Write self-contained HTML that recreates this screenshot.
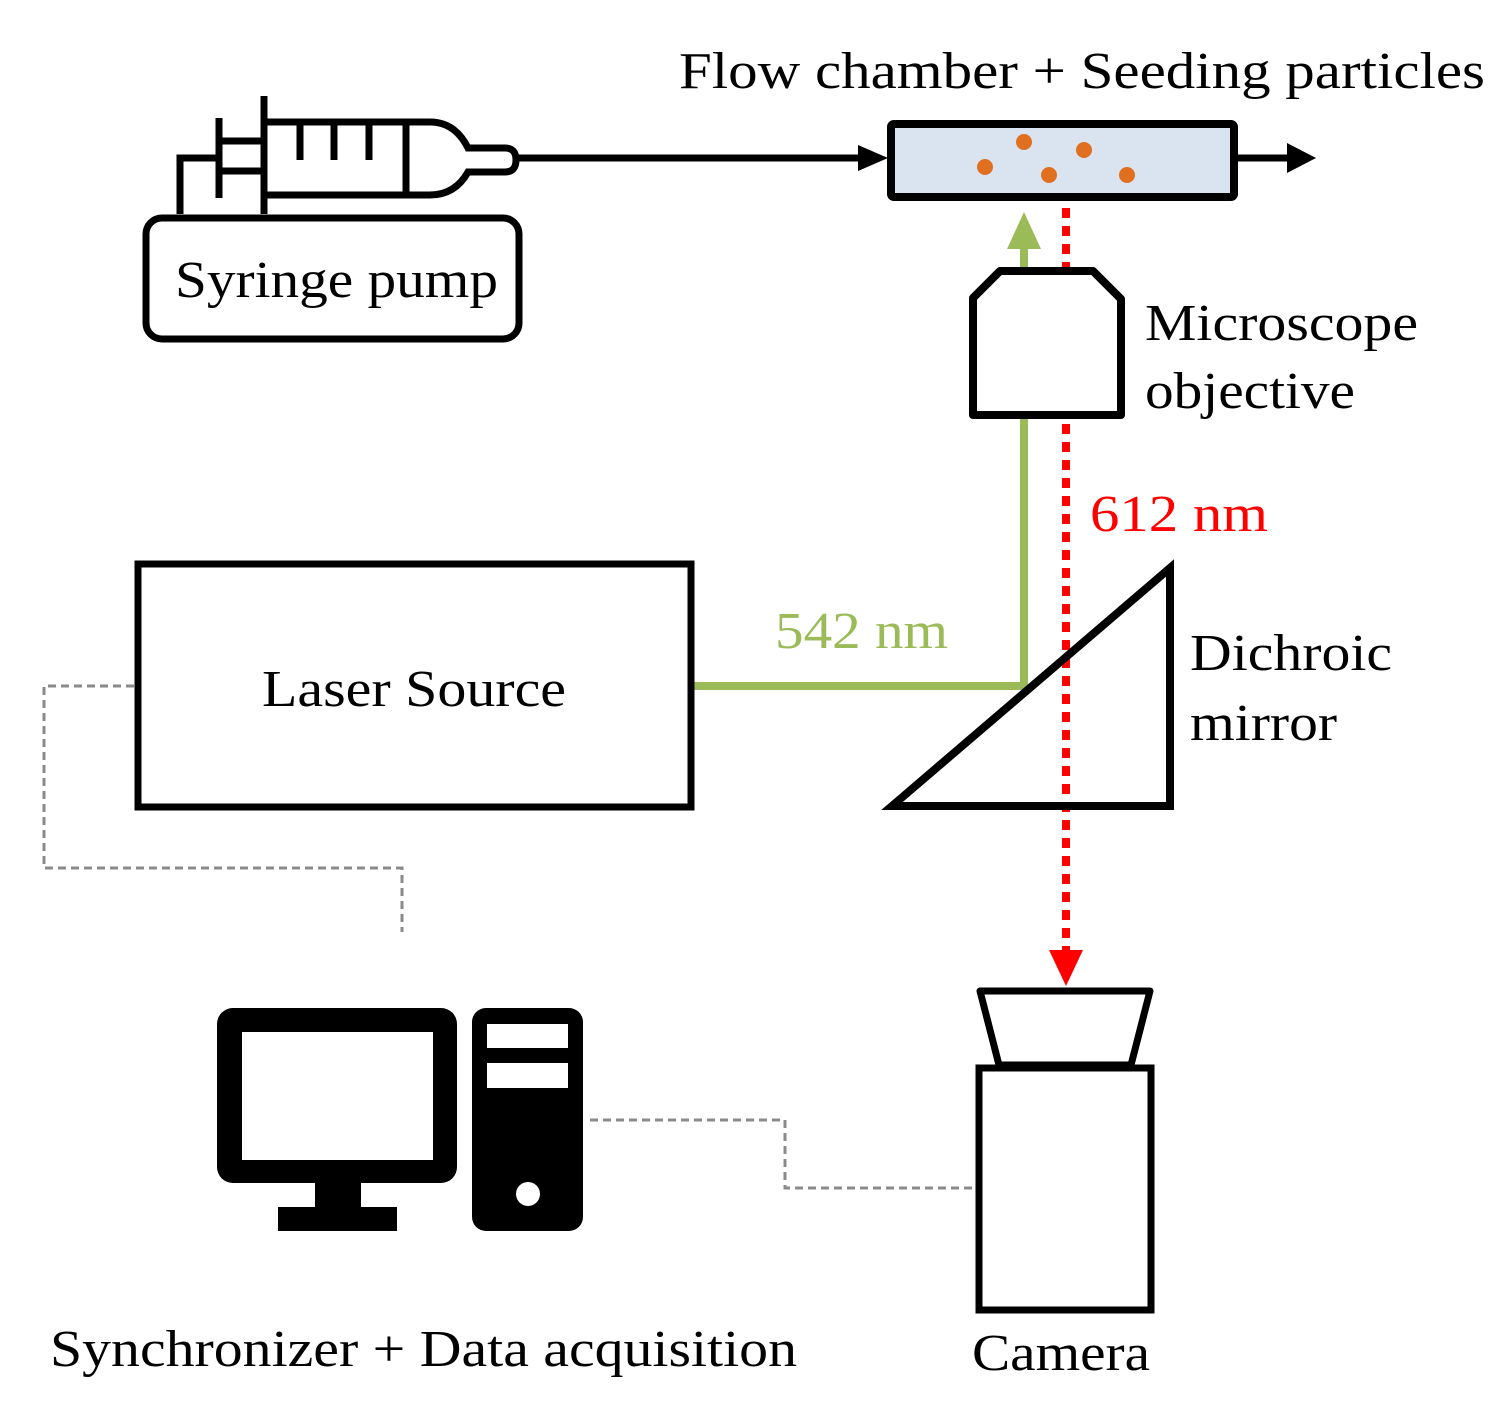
<!DOCTYPE html>
<html><head><meta charset="utf-8"><style>
html,body{margin:0;padding:0;background:#fff;}
svg{display:block;}
text{font-family:"Liberation Serif",serif;}
</style></head><body>
<svg width="1503" height="1415" viewBox="0 0 1503 1415" xmlns="http://www.w3.org/2000/svg">
<g fill="none" stroke="#000" stroke-width="7">
<line x1="264" y1="96" x2="264" y2="214"/>
<line x1="219" y1="118" x2="219" y2="198"/>
<line x1="219" y1="141" x2="264" y2="141"/>
<line x1="219" y1="171" x2="264" y2="171"/>
<polyline points="180,214 180,158 219,158"/>
<path d="M264,122 L430,122 Q455,122 468,148 L505,148 Q516,148 516,160 Q516,172 505,172 L468,172 Q455,195 430,195 L264,195"/>
<line x1="300" y1="122" x2="300" y2="160"/>
<line x1="334" y1="122" x2="334" y2="160"/>
<line x1="369" y1="122" x2="369" y2="160"/>
<line x1="406" y1="122" x2="406" y2="195"/>
<line x1="516" y1="158" x2="862" y2="158"/>
<rect x="146" y="218" width="373" height="121" rx="16"/>
</g>
<polygon points="858,145 888,158 858,171" fill="#000"/>
<text x="175" y="297" font-size="52" textLength="323" lengthAdjust="spacingAndGlyphs">Syringe pump</text>
<text x="679" y="88" font-size="52" textLength="806" lengthAdjust="spacingAndGlyphs">Flow chamber +  Seeding particles</text>
<rect x="891" y="124" width="343" height="73" fill="#dae3f0" stroke="#000" stroke-width="8" rx="3"/>
<g fill="#e07020">
<circle cx="985" cy="167" r="8"/><circle cx="1024" cy="142" r="8"/><circle cx="1084" cy="150" r="8"/><circle cx="1049" cy="175" r="8"/><circle cx="1127" cy="175" r="8"/>
</g>
<line x1="1234" y1="158" x2="1292" y2="158" stroke="#000" stroke-width="7"/>
<polygon points="1287,143 1316,158 1287,173" fill="#000"/>
<g stroke="#9bbb59" stroke-width="8" fill="none">
<line x1="693" y1="686" x2="1024" y2="686"/>
<line x1="1024" y1="690" x2="1024" y2="245"/>
</g>
<polygon points="1007,249 1024,212 1041,249" fill="#9bbb59"/>
<line x1="1066" y1="208" x2="1066" y2="955" stroke="#ff0000" stroke-width="8" stroke-dasharray="10,8"/>
<polygon points="1049,950 1083,950 1066,986" fill="#ff0000"/>
<polygon points="1000,271 1093,271 1121,299 1121,415 973,415 973,298" fill="#fff" stroke="#000" stroke-width="8" stroke-linejoin="round"/>
<text x="1145" y="340" font-size="52" textLength="273" lengthAdjust="spacingAndGlyphs">Microscope</text>
<text x="1145" y="408" font-size="52" textLength="210" lengthAdjust="spacingAndGlyphs">objective</text>
<text x="1090" y="531" font-size="52" fill="#ff0000" textLength="178" lengthAdjust="spacingAndGlyphs">612 nm</text>
<text x="775" y="648" font-size="52" fill="#9bbb59" textLength="173" lengthAdjust="spacingAndGlyphs">542 nm</text>
<polygon points="892,806 1170,568 1170,806" fill="none" stroke="#000" stroke-width="8" stroke-linejoin="miter"/>
<text x="1190" y="670" font-size="52" textLength="202" lengthAdjust="spacingAndGlyphs">Dichroic</text>
<text x="1190" y="740" font-size="52" textLength="147" lengthAdjust="spacingAndGlyphs">mirror</text>
<rect x="138" y="564" width="553" height="243" fill="#fff" stroke="#000" stroke-width="7"/>
<text x="262" y="706" font-size="52" textLength="304" lengthAdjust="spacingAndGlyphs">Laser Source</text>
<g stroke="#8a8a8a" stroke-width="3" fill="none" stroke-dasharray="8,5">
<polyline points="134,686 44,686 44,868 402,868 402,932"/>
<polyline points="590,1120 785,1120 785,1188 976,1188"/>
</g>
<rect x="217" y="1008" width="240" height="175" rx="16" fill="#000"/>
<rect x="242" y="1032" width="191" height="128" fill="#fff"/>
<rect x="315" y="1180" width="46" height="30" fill="#000"/>
<rect x="278" y="1207" width="119" height="24" fill="#000"/>
<rect x="472" y="1008" width="111" height="223" rx="14" fill="#000"/>
<rect x="487" y="1024" width="81" height="24" fill="#fff"/>
<rect x="487" y="1063" width="81" height="25" fill="#fff"/>
<circle cx="528" cy="1194" r="12" fill="#fff"/>
<text x="50" y="1366" font-size="52" textLength="747" lengthAdjust="spacingAndGlyphs">Synchronizer + Data acquisition</text>
<polygon points="980,991 1150,991 1131,1065 999,1065" fill="#fff" stroke="#000" stroke-width="7" stroke-linejoin="round"/>
<rect x="979" y="1068" width="172" height="242" fill="#fff" stroke="#000" stroke-width="7"/>
<text x="972" y="1370" font-size="52" textLength="178" lengthAdjust="spacingAndGlyphs">Camera</text>
</svg>
</body></html>
